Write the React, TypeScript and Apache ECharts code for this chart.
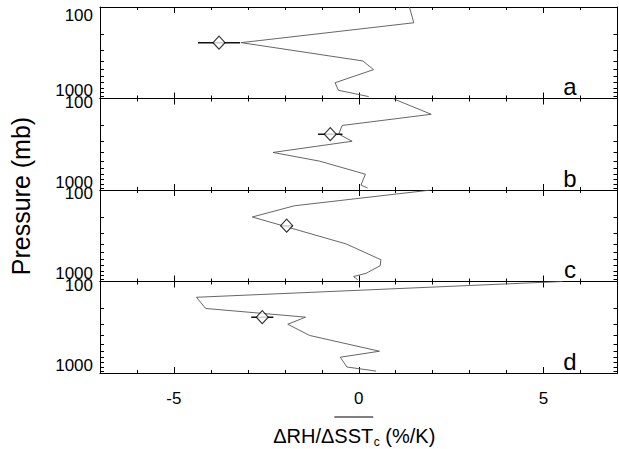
import React, { useEffect, useRef } from 'react';
import * as echarts from 'echarts';

// ---------- data ----------
const panelLabels = ['a', 'b', 'c', 'd'];

const pressureA = [100, 150, 250, 400, 500, 700, 850, 1000];
const rhA = [1.37, 1.49, -3.18, 0.11, 0.4, -0.64, -0.55, 0.27];

const pressureB = [100, 150, 200, 250, 300, 400, 500, 700, 925, 1000];
const rhB = [0.92, 1.96, -0.45, -0.54, -0.18, -2.32, -1.06, 0.18, 0.06, 0.24];

const pressureC = [100, 150, 200, 400, 600, 700, 850, 925, 1000];
const rhC = [1.96, -1.74, -2.88, -0.34, 0.6, 0.58, 0.2, -0.14, -0.03];

const pressureD = [100, 150, 200, 250, 300, 400, 600, 700, 900, 1000];
const rhD = [5.51, -4.39, -4.14, -1.44, -1.92, -1.33, 0.56, -0.5, -0.32, 0.47];

const markerRH = [-3.78, -0.77, -1.95, -2.61];
const markerErr = [0.57, 0.33, 0.16, 0.3];
const markerPressure = [250, 250, 250, 250];

const xTickLabels = [-5, 0, 5];
const xMinorTicks = [-7, -6, -5, -4, -3, -2, -1, 0, 1, 2, 3, 4, 5, 6, 7];
const yTicks = [100, 200, 300, 400, 500, 600, 700, 800, 900, 1000];
const yTickLabels = [100, 1000];

const xTitleParts = ['\u0394RH/\u0394', 'SST', 'c', ' (%/K)'];
const yTitle = 'Pressure (mb)';

const profiles = [
  { p: pressureA, v: rhA },
  { p: pressureB, v: rhB },
  { p: pressureC, v: rhC },
  { p: pressureD, v: rhD },
];

// ---------- layout ----------
const FONT = '"Liberation Sans", Arial, Helvetica, sans-serif';
const GRID_LEFT = 100;
const GRID_WIDTH = 517.5;
const GRID_TOPS = [7, 98.5, 190, 281.5];
const GRID_H = 91.5;

function measure(text: string, size: number): number {
  const c = document.createElement('canvas').getContext('2d');
  if (!c) return text.length * size * 0.6;
  c.font = `${size}px ${FONT}`;
  return c.measureText(text).width;
}

export default function App() {
  const ref = useRef<HTMLDivElement>(null);

  useEffect(() => {
    if (!ref.current) return;
    const chart = echarts.init(ref.current, undefined, { renderer: 'svg' });

    const grids: any[] = [];
    const xAxes: any[] = [];
    const yAxes: any[] = [];
    const series: any[] = [];
    const graphics: any[] = [];

    for (let i = 0; i < 4; i++) {
      grids.push({
        left: GRID_LEFT,
        top: GRID_TOPS[i],
        width: GRID_WIDTH,
        height: GRID_H,
        containLabel: false,
        outerBoundsMode: 'none',
      });
      const baseX = {
        type: 'value',
        gridIndex: i,
        min: -7,
        max: 7,
        splitLine: { show: false },
        axisLine: { show: true, onZero: false, lineStyle: { color: '#000', width: 1 } },
      };
      xAxes.push({
        ...baseX,
        position: 'bottom',
        axisTick: { show: true, inside: true, length: 3, customValues: xMinorTicks, lineStyle: { color: '#000' } },
        axisLabel: {
          show: i === 3,
          customValues: xTickLabels,
          margin: 17,
          fontSize: 17,
          fontFamily: FONT,
          color: '#000',
        },
      });
      xAxes.push({
        ...baseX,
        position: 'top',
        axisTick: { show: true, inside: true, length: 3, customValues: xMinorTicks, lineStyle: { color: '#000' } },
        axisLabel: { show: false },
      });
      xAxes.push({
        ...baseX,
        position: 'bottom',
        axisLine: { show: false, onZero: false },
        axisTick: { show: true, inside: true, length: 6, customValues: xTickLabels, lineStyle: { color: '#000' } },
        axisLabel: { show: false },
      });
      xAxes.push({
        ...baseX,
        position: 'top',
        axisLine: { show: false, onZero: false },
        axisTick: { show: true, inside: true, length: 6, customValues: xTickLabels, lineStyle: { color: '#000' } },
        axisLabel: { show: false },
      });

      const baseY = {
        type: 'log',
        logBase: 10,
        gridIndex: i,
        min: 100,
        max: 1050,
        inverse: true,
        splitLine: { show: false },
        axisLine: { show: true, onZero: false, lineStyle: { color: '#000', width: 1 } },
        axisTick: { show: true, inside: true, length: 4, customValues: yTicks, lineStyle: { color: '#000' } },
      };
      const richBase = { fontSize: 17, fontFamily: FONT, color: '#000' };
      yAxes.push({
        ...baseY,
        position: 'left',
        axisLabel: {
          show: true,
          customValues: yTickLabels,
          margin: 7,
          fontSize: 17,
          fontFamily: FONT,
          color: '#000',
          formatter: (v: number) => {
            if (Math.abs(v - 100) < 1) return i === 0 ? '{t0|100}' : '{t|100}';
            return '{b|1000}';
          },
          rich: {
            t0: { ...richBase, padding: [16, 0, 0, 0] },
            t: { ...richBase, padding: [7, 0, 0, 0] },
            b: { ...richBase, padding: [0, 0, 12, 0] },
          },
        },
      });
      yAxes.push({
        ...baseY,
        position: 'right',
        axisLabel: { show: false },
      });

      const xi = i * 4;
      const yi = i * 2;
      const prof = profiles[i];
      series.push({
        type: 'line',
        xAxisIndex: xi,
        yAxisIndex: yi,
        data: prof.v.map((v, k) => [v, prof.p[k]]),
        showSymbol: false,
        symbol: 'none',
        lineStyle: { color: '#555', width: 0.9 },
        z: 2,
      });
      series.push({
        type: 'line',
        xAxisIndex: xi,
        yAxisIndex: yi,
        data: [
          [markerRH[i] - markerErr[i], markerPressure[i]],
          [markerRH[i] + markerErr[i], markerPressure[i]],
        ],
        symbol: 'none',
        lineStyle: { color: '#111', width: 1.5 },
        z: 3,
      });
      series.push({
        type: 'scatter',
        xAxisIndex: xi,
        yAxisIndex: yi,
        data: [[markerRH[i], markerPressure[i]]],
        symbol: 'diamond',
        symbolSize: [12, 13],
        itemStyle: { color: '#fff', borderColor: '#000', borderWidth: 1.2 },
        z: 4,
      });

      graphics.push({
        type: 'text',
        x: 570,
        y: GRID_TOPS[i] + GRID_H - 12,
        style: {
          text: panelLabels[i],
          fontSize: 24,
          fontFamily: FONT,
          fill: '#000',
          align: 'center',
          verticalAlign: 'middle',
        },
      });
    }

    graphics.push({
      type: 'text',
      x: 21,
      y: 196,
      rotation: Math.PI / 2,
      style: {
        text: yTitle,
        fontSize: 25,
        fontFamily: FONT,
        fill: '#000',
        align: 'center',
        verticalAlign: 'middle',
      },
    });

    const mainSize = 20;
    const subSize = 12;
    const w1 = measure(xTitleParts[0], mainSize);
    const w2 = measure(xTitleParts[1], mainSize);
    const w3 = measure(xTitleParts[2], subSize);
    const w4 = measure(xTitleParts[3], mainSize);
    const total = w1 + w2 + w3 + w4;
    const cx = 354;
    const cy = 436;
    const x0 = cx - total / 2;
    const mk = (t: string, x: number, y: number, size: number) => ({
      type: 'text',
      x,
      y,
      style: { text: t, fontSize: size, fontFamily: FONT, fill: '#000', align: 'left', verticalAlign: 'middle' },
    });
    graphics.push(mk(xTitleParts[0], x0, cy, mainSize));
    const sstStart = x0 + w1;
    graphics.push(mk(xTitleParts[1], sstStart, cy, mainSize));
    graphics.push({
      type: 'line',
      shape: { x1: sstStart, y1: 417, x2: sstStart + w2, y2: 417 },
      style: { stroke: '#000', lineWidth: 1 },
    });
    graphics.push(mk(xTitleParts[2], sstStart + w2 + 0.5, cy + 6, subSize));
    graphics.push(mk(xTitleParts[3], sstStart + w2 + w3 + 0.5, cy, mainSize));

    chart.setOption({
      animation: false,
      backgroundColor: '#fff',
      grid: grids,
      xAxis: xAxes,
      yAxis: yAxes,
      series,
      graphic: graphics,
    });

    return () => chart.dispose();
  }, []);

  return (
    <div
      ref={ref}
      style={{ position: 'absolute', left: 0, top: 0, width: 619, height: 449, background: '#fff' }}
    />
  );
}
